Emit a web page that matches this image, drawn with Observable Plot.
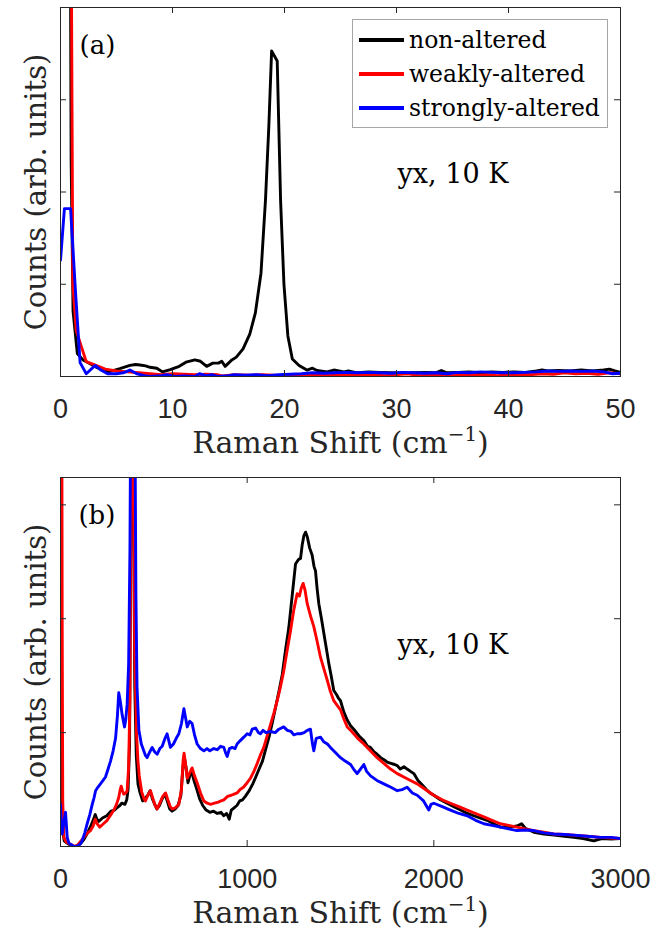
<!DOCTYPE html>
<html><head><meta charset="utf-8">
<script src="https://cdn.jsdelivr.net/npm/d3@7"></script>
<script src="https://cdn.jsdelivr.net/npm/@observablehq/plot@0.6"></script>
<style>
body{margin:0;background:#fff;}
#wrap{position:relative;width:669px;height:932px;}
#wrap svg{display:block;}
.legend{position:absolute;left:352px;top:19px;width:256px;height:109px;box-sizing:border-box;border:1px solid #a6a6a6;background:#fff;padding-top:3px;font-family:"DejaVu Serif";font-size:23.5px;color:#000;}
.legend .row{height:34px;display:flex;align-items:center;white-space:nowrap;}
.legend .sw{width:45px;height:3.5px;margin-left:6px;margin-right:5px;flex:none;}
</style></head>
<body><div id="wrap"></div>
<script>
// ---------- data ----------
const seriesNames = ["non-altered", "weakly-altered", "strongly-altered"];
const seriesColors = ["#000000", "#ff0000", "#0000ff"];

const topXTicks = [0, 10, 20, 30, 40, 50];
const topYTicks = [0, 1, 2, 3, 4];
const bottomXTicks = [0, 1000, 2000, 3000];
const bottomYTicks = [0, 1, 2, 3];

const topBlack = [[0.3,9],[0.85,6],[0.95,2.34],[1.12,0.71],[1.5,0.25],[2.0,0.18],[2.4,0.155],[3.2,0.10],[4.3,0.05],[5.3,0.085],[6.2,0.12],[6.7,0.13],[7.1,0.125],[7.6,0.115],[8.0,0.10],[8.6,0.09],[9.1,0.05],[9.8,0.075],[10.6,0.11],[11.2,0.155],[12.0,0.18],[12.5,0.165],[13.05,0.11],[13.6,0.145],[14.1,0.145],[14.4,0.165],[14.7,0.11],[15.3,0.18],[15.7,0.21],[16.3,0.30],[16.9,0.46],[17.4,0.69],[17.9,1.12],[18.3,1.91],[18.6,2.71],[18.85,3.53],[19.35,3.42],[19.65,1.91],[19.95,1.00],[20.3,0.44],[20.7,0.19],[21.3,0.12],[22.0,0.07],[22.5,0.09],[22.9,0.065],[23.8,0.05],[24.4,0.07],[25.3,0.05],[25.7,0.06],[26.5,0.04],[27.5,0.05],[28.5,0.045],[29.5,0.04],[30.5,0.035],[31.5,0.04],[32.5,0.045],[33.5,0.04],[34.0,0.065],[34.5,0.04],[35.5,0.045],[36.5,0.05],[37.5,0.04],[38.5,0.05],[39.5,0.045],[40.5,0.05],[41.5,0.045],[42.5,0.06],[43.0,0.07],[43.5,0.06],[44.5,0.065],[45.5,0.06],[46.5,0.07],[47.5,0.06],[48.5,0.07],[49.0,0.08],[49.5,0.06],[50,0.045]];
const topRed = [[0.6,12],[0.95,5],[1.1,1.0],[1.4,0.5],[1.9,0.31],[2.3,0.16],[3.0,0.13],[4.0,0.08],[5.0,0.06],[6.0,0.05],[7.0,0.04],[8.0,0.03],[9,0.02],[10,0.03],[11,0.025],[12,0.02],[13,0.025],[14,0.02],[14.5,0.005],[15.5,0.02],[17,0.015],[18,0.02],[19,0.015],[20,0.01],[21,0.02],[22,0.015],[23,0.02],[24,0.025],[25,0.02],[26,0.015],[27,0.025],[28,0.02],[29,0.01],[30,0.02],[31,0.03],[32,0.01],[33,0.015],[34,0.02],[35,0.01],[36,0.02],[37,0.015],[38,0.02],[39,0.01],[40,0.02],[41,0.025],[42,0.02],[43,0.03],[44,0.025],[45,0.04],[46,0.03],[47,0.035],[48,0.025],[49,0.04],[50,0.03]];
const topBlue = [[0,1.26],[0.35,1.82],[0.9,1.82],[1.35,0.9],[1.75,0.15],[2.3,0.03],[3.1,0.12],[3.6,0.07],[4.2,0.03],[5.0,0.03],[5.6,0.04],[6.2,0.07],[6.8,0.03],[7.5,0.01],[8,0.0],[9,0.01],[9.5,0.02],[10.2,0.0],[11,0.005],[12.0,0.0],[12.4,0.03],[13,0.01],[13.5,0.02],[14,0.0],[15,0.01],[15.5,0.02],[16.5,0.015],[17.5,0.02],[18.5,0.01],[19.5,0.02],[20.5,0.025],[21.5,0.03],[22.5,0.04],[23.5,0.035],[24.5,0.04],[25.5,0.045],[26.5,0.04],[27.5,0.045],[28.5,0.04],[29.5,0.035],[30.5,0.045],[31.5,0.04],[32.5,0.035],[33.5,0.04],[34.5,0.03],[35.5,0.045],[36.5,0.04],[37.5,0.05],[38.5,0.045],[39.5,0.04],[40.5,0.04],[41.5,0.045],[42.5,0.05],[43.5,0.06],[44.5,0.055],[45.5,0.06],[46.5,0.055],[47.5,0.06],[48.5,0.05],[49.3,0.03],[50,0.035]];

const bottomBlack = [[0,2.73],[3,1.6],[6,0.5],[10,0.15],[20,0.05],[35,0.03],[54,0.01],[75,0.0],[95,0.01],[110,0.03],[125,0.06],[145,0.12],[165,0.19],[177,0.24],[186,0.28],[195,0.24],[205,0.22],[225,0.25],[248,0.27],[270,0.31],[290,0.32],[302,0.34],[318,0.36],[328,0.38],[345,0.37],[355,0.41],[362,0.50],[370,0.9],[377,3.0],[384,6],[391,3.0],[398,1.4],[406,0.8],[415,0.55],[425,0.48],[440,0.40],[452,0.42],[468,0.45],[480,0.49],[492,0.42],[505,0.37],[516,0.33],[530,0.36],[545,0.42],[560,0.46],[572,0.40],[585,0.33],[598,0.31],[615,0.33],[630,0.36],[645,0.45],[656,0.70],[664,0.78],[672,0.70],[683,0.56],[694,0.63],[702,0.66],[715,0.58],[727,0.52],[745,0.42],[762,0.36],[780,0.32],[800,0.30],[820,0.31],[840,0.29],[860,0.30],[875,0.27],[890,0.29],[904,0.24],[915,0.32],[930,0.34],[945,0.36],[960,0.40],[975,0.41],[990,0.44],[1011,0.49],[1030,0.55],[1046,0.61],[1064,0.68],[1082,0.75],[1100,0.86],[1117,0.96],[1135,1.09],[1152,1.22],[1170,1.36],[1188,1.51],[1205,1.72],[1223,1.92],[1241,2.20],[1259,2.48],[1275,2.52],[1286,2.53],[1295,2.65],[1304,2.73],[1313,2.76],[1322,2.72],[1335,2.62],[1348,2.56],[1358,2.46],[1366,2.42],[1375,2.26],[1384,2.13],[1398,2.0],[1411,1.87],[1424,1.74],[1437,1.61],[1450,1.50],[1464,1.37],[1480,1.33],[1490,1.30],[1500,1.28],[1518,1.18],[1536,1.11],[1554,1.06],[1571,1.03],[1590,0.99],[1605,0.96],[1625,0.93],[1645,0.88],[1660,0.87],[1680,0.83],[1696,0.81],[1715,0.78],[1735,0.76],[1750,0.74],[1770,0.73],[1790,0.72],[1804,0.71],[1820,0.68],[1840,0.70],[1857,0.68],[1875,0.66],[1893,0.64],[1915,0.58],[1938,0.54],[1960,0.50],[1980,0.47],[2000,0.45],[2035,0.41],[2071,0.38],[2107,0.35],[2143,0.32],[2180,0.29],[2214,0.27],[2250,0.25],[2286,0.23],[2320,0.20],[2357,0.17],[2400,0.17],[2446,0.18],[2470,0.20],[2490,0.16],[2536,0.125],[2590,0.11],[2643,0.10],[2700,0.09],[2750,0.08],[2800,0.07],[2857,0.05],[2900,0.07],[2950,0.065],[3000,0.07]];
const bottomRed = [[0,12],[5,6],[9,2.0],[12,0.4],[18,0.08],[30,0.04],[54,0.02],[75,0.0],[90,0.01],[110,0.05],[125,0.08],[145,0.12],[161,0.14],[175,0.18],[186,0.24],[196,0.20],[210,0.17],[230,0.20],[250,0.23],[270,0.28],[286,0.32],[300,0.37],[312,0.43],[320,0.50],[325,0.53],[332,0.49],[339,0.46],[350,0.47],[357,0.49],[365,0.7],[372,1.3],[378,3.5],[383,6.5],[390,3.5],[398,1.7],[407,1.0],[415,0.75],[422,0.62],[435,0.48],[447,0.42],[455,0.40],[468,0.45],[482,0.49],[495,0.42],[507,0.36],[518,0.33],[532,0.38],[548,0.44],[563,0.47],[575,0.41],[588,0.35],[598,0.33],[615,0.34],[634,0.37],[648,0.50],[657,0.76],[662,0.82],[670,0.72],[679,0.60],[690,0.64],[705,0.69],[718,0.62],[732,0.56],[750,0.47],[768,0.40],[786,0.38],[804,0.37],[825,0.38],[845,0.39],[860,0.40],[875,0.41],[895,0.44],[915,0.45],[930,0.46],[946,0.47],[962,0.50],[980,0.52],[1000,0.56],[1018,0.60],[1036,0.66],[1054,0.73],[1070,0.80],[1089,0.87],[1107,0.97],[1125,1.07],[1143,1.17],[1161,1.28],[1178,1.40],[1196,1.54],[1214,1.72],[1232,1.89],[1250,2.08],[1268,2.22],[1280,2.20],[1290,2.27],[1300,2.31],[1310,2.25],[1322,2.13],[1340,2.02],[1357,1.93],[1375,1.80],[1393,1.66],[1411,1.56],[1429,1.46],[1446,1.36],[1464,1.28],[1482,1.24],[1500,1.20],[1518,1.12],[1536,1.05],[1554,1.02],[1571,0.99],[1598,0.94],[1625,0.90],[1660,0.84],[1696,0.78],[1732,0.73],[1768,0.68],[1804,0.64],[1839,0.61],[1875,0.58],[1911,0.55],[1955,0.50],[2000,0.45],[2045,0.41],[2089,0.38],[2134,0.35],[2179,0.32],[2224,0.29],[2268,0.26],[2312,0.23],[2357,0.20],[2400,0.185],[2446,0.17],[2490,0.155],[2536,0.14],[2590,0.125],[2643,0.11],[2700,0.105],[2750,0.10],[2820,0.09],[2893,0.08],[2950,0.075],[3000,0.07]];
const bottomBlue = [[0,0.37],[5,0.12],[9,0.11],[18,0.22],[27,0.30],[36,0.08],[45,0.03],[54,0.02],[70,0.0],[89,0.0],[105,0.02],[116,0.05],[130,0.12],[143,0.20],[157,0.28],[170,0.37],[180,0.43],[188,0.49],[200,0.52],[214,0.55],[228,0.58],[241,0.61],[255,0.68],[268,0.75],[282,0.84],[295,0.95],[305,1.15],[312,1.35],[320,1.28],[330,1.16],[343,1.05],[350,1.12],[357,1.25],[365,1.6],[372,2.6],[380,5],[390,7],[398,4],[404,2.2],[410,1.4],[420,1.02],[433,0.90],[446,0.84],[455,0.80],[464,0.78],[478,0.83],[491,0.87],[505,0.83],[518,0.81],[532,0.86],[545,0.88],[560,0.95],[571,0.99],[580,0.93],[589,0.87],[605,0.90],[620,0.95],[634,0.99],[648,1.08],[661,1.21],[670,1.13],[679,1.05],[692,1.10],[705,1.08],[718,0.98],[732,0.90],[750,0.86],[768,0.84],[785,0.86],[800,0.84],[821,0.86],[840,0.85],[858,0.88],[875,0.87],[885,0.82],[893,0.79],[905,0.86],[920,0.87],[935,0.86],[946,0.90],[963,0.93],[982,0.96],[1000,0.99],[1015,0.98],[1027,1.03],[1045,1.04],[1060,1.00],[1071,0.99],[1085,1.02],[1100,1.00],[1125,1.01],[1150,1.00],[1170,1.03],[1196,1.05],[1215,1.02],[1235,1.01],[1250,0.98],[1268,0.99],[1286,0.99],[1305,1.00],[1322,1.02],[1339,1.03],[1350,0.90],[1357,0.84],[1370,0.95],[1393,0.96],[1410,0.92],[1430,0.90],[1446,0.87],[1470,0.83],[1500,0.78],[1525,0.75],[1554,0.72],[1570,0.68],[1589,0.64],[1607,0.68],[1625,0.72],[1640,0.66],[1661,0.62],[1695,0.58],[1732,0.55],[1770,0.52],[1804,0.49],[1830,0.50],[1857,0.52],[1885,0.47],[1911,0.45],[1945,0.40],[1973,0.32],[1985,0.37],[2000,0.38],[2045,0.35],[2089,0.32],[2134,0.29],[2179,0.27],[2224,0.23],[2268,0.20],[2312,0.185],[2357,0.17],[2400,0.155],[2446,0.14],[2490,0.145],[2536,0.14],[2590,0.12],[2643,0.11],[2700,0.105],[2750,0.10],[2820,0.09],[2893,0.08],[2950,0.08],[3000,0.07]];

const xLabelText = "Raman Shift (cm-1)";
const yLabelText = "Counts (arb. units)";
const topNotes = [{x: 1.7, y: 3.59, text: "(a)", size: 26}, {x: 30.1, y: 2.19, text: "yx, 10 K", size: 27}];
const bottomNotes = [{x: 96, y: 2.906, text: "(b)", size: 26}, {x: 1805, y: 1.77, text: "yx, 10 K", size: 27}];

// ---------- drawing ----------
const ink = "#262626";
const serif = "DejaVu Serif";
const sans = "Liberation Sans";

function panel(cfg) {
  const W = 669, mt = 7, ml = 60, mr = 49, mb = cfg.mb;
  const innerW = W - ml - mr, innerH = cfg.height - mt - mb;
  const tk = 6;
  const svg = Plot.plot({
    width: W, height: cfg.height,
    marginTop: mt, marginBottom: mb, marginLeft: ml, marginRight: mr,
    x: {domain: cfg.xDomain, axis: null},
    y: {domain: cfg.yDomain, axis: null},
    style: {background: "white", overflow: "visible"},
    marks: [
      ...cfg.series.map((s, i) => Plot.line(s, {x: d => d[0], y: d => d[1], stroke: seriesColors[i], strokeWidth: 2.9, strokeLinejoin: "round", clip: true})),
      Plot.frame({stroke: ink, strokeWidth: 1}),
      Plot.tickX(cfg.xTicks, {x: d => d, insetTop: innerH - tk, stroke: ink}),
      Plot.tickX(cfg.xTicks, {x: d => d, insetBottom: innerH - tk, stroke: ink}),
      Plot.tickY(cfg.yTicks, {y: d => d, insetRight: innerW - tk, stroke: ink}),
      Plot.tickY(cfg.yTicks, {y: d => d, insetLeft: innerW - tk, stroke: ink}),
      Plot.text(cfg.xTicks, {x: d => d, frameAnchor: "bottom", lineAnchor: "top", dy: 22, text: d => String(d), fontSize: 27, fontFamily: sans, fill: ink}),
      Plot.text([xLabelText], {frameAnchor: "bottom", textAnchor: "middle", lineAnchor: "middle", dy: 67, text: d => d, fontSize: 30, fontFamily: serif, fill: ink}),
      Plot.text([yLabelText], {frameAnchor: "left", textAnchor: "middle", lineAnchor: "middle", rotate: -90, dx: -24, text: d => d, fontSize: 29, fontFamily: serif, fill: ink}),
      Plot.text(cfg.notes, {x: "x", y: "y", text: "text", fontSize: d => d.size, textAnchor: "start", lineAnchor: "middle", fontFamily: serif, fill: "#000"})
    ]
  });
  // superscript in the x label
  const ns = "http://www.w3.org/2000/svg";
  svg.querySelectorAll("text").forEach(t => {
    if (t.textContent === xLabelText) {
      t.textContent = "";
      const a = document.createElementNS(ns, "tspan"); a.textContent = "Raman Shift (cm";
      const b = document.createElementNS(ns, "tspan"); b.textContent = "\u22121"; b.setAttribute("dy", "-12"); b.setAttribute("font-size", "20");
      const c = document.createElementNS(ns, "tspan"); c.textContent = ")"; c.setAttribute("dy", "12");
      t.append(a, b, c);
    }
  });
  return svg;
}

const wrap = document.getElementById("wrap");
wrap.appendChild(panel({height: 470, mb: 94, xDomain: [0, 50], yDomain: [0, 4], xTicks: topXTicks, yTicks: topYTicks, series: [topBlack, topRed, topBlue], notes: topNotes}));
wrap.appendChild(panel({height: 462, mb: 86, xDomain: [0, 3000], yDomain: [0, 3.24], xTicks: bottomXTicks, yTicks: bottomYTicks, series: [bottomBlack, bottomRed, bottomBlue], notes: bottomNotes}));

// legend
const lg = document.createElement("div");
lg.className = "legend";
seriesNames.forEach((n, i) => {
  const row = document.createElement("div"); row.className = "row";
  const sw = document.createElement("span"); sw.className = "sw"; sw.style.background = seriesColors[i];
  const tx = document.createElement("span"); tx.textContent = n;
  row.append(sw, tx); lg.appendChild(row);
});
wrap.appendChild(lg);
</script></body></html>
